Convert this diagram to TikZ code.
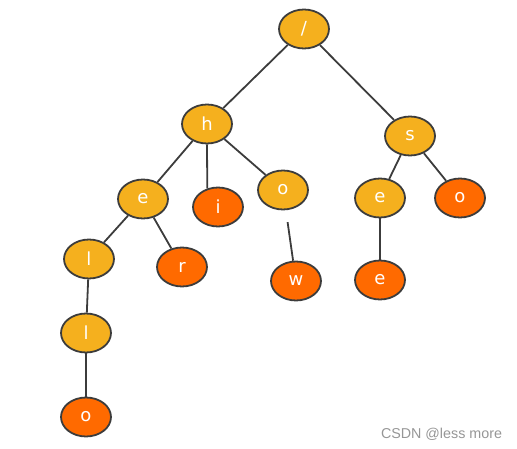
\documentclass[tikz,border=0pt]{standalone}
\usepackage{fontspec}
\setmainfont{DejaVu Sans}
\newfontfamily\wmfont{Liberation Sans}
\usetikzlibrary{shapes.geometric}
\definecolor{lightor}{RGB}{245,176,30}
\definecolor{darkor}{RGB}{255,106,0}
\definecolor{edgegray}{RGB}{60,60,60}
\definecolor{wmgray}{RGB}{150,150,150}
\tikzset{
  tnode/.style={ellipse, draw=edgegray, line width=1.8pt, minimum width=50pt, minimum height=39pt, inner sep=0pt, text=white, font=\fontsize{18}{18}\selectfont},
  inner/.style={tnode, fill=lightor},
  leaf/.style={tnode, fill=darkor},
  link/.style={draw=edgegray, line width=1.8pt}
}
\begin{document}
\begin{tikzpicture}[x=1pt,y=-1pt]
\useasboundingbox (0,0) rectangle (517,449);
\node[inner] (root) at (304,29) {/};
\node[inner] (h) at (207,124) {h};
\node[inner] (s) at (410,136) {s};
\node[inner] (e1) at (143,199) {e};
\node[leaf] (i) at (218,207) {i};
\node[inner] (o1) at (283,190) {o};
\node[inner] (e2) at (380,198) {e};
\node[leaf] (o2) at (460,198) {o};
\node[inner] (l1) at (89,259) {l};
\node[leaf] (r) at (182,267) {r};
\node[leaf] (w) at (296,281) {w};
\node[leaf] (e3) at (380,280) {e};
\node[inner] (l2) at (86,333) {l};
\node[leaf] (o3) at (86,417) {o};
\node[text=wmgray, font=\wmfont\fontsize{14.3}{14.3}\selectfont] (wm) at (441.5,434) {CSDN @less more};
\draw[link] (root) -- (h);
\draw[link] (root) -- (s);
\draw[link] (h) -- (e1);
\draw[link] (h.south) -- (i.120);
\draw[link] (h) -- (o1);
\draw[link] (s) -- (e2);
\draw[link] (s) -- (o2);
\draw[link] (e1) -- (l1);
\draw[link] (e1) -- (r);
\draw[link, shorten <=12pt] (o1) -- (w);
\draw[link] (e2) -- (e3);
\draw[link] (l1) -- (l2);
\draw[link] (l2) -- (o3);
\end{tikzpicture}
\end{document}
